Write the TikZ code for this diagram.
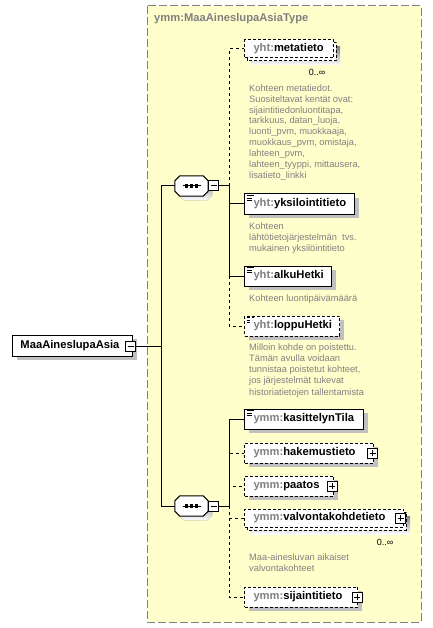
\documentclass[tikz,border=0pt]{standalone}
\usepackage{fontspec}
\setmainfont{Liberation Sans}
\usetikzlibrary{shadows}
\definecolor{bgyellow}{RGB}{255,255,204}
\definecolor{framegray}{RGB}{128,128,128}
\definecolor{pfx}{RGB}{128,128,128}
\definecolor{notegray}{RGB}{128,128,128}
\definecolor{shade}{RGB}{192,192,192}
\newcommand{\lblfont}{\bfseries\fontsize{11.2}{13}\selectfont}
\newcommand{\pf}[1]{\textcolor{pfx}{#1}}
\newcommand{\octpath}[2]{% #1 node name, #2 shift
  ([shift={#2},xshift=5pt]#1.north west) -- ([shift={#2},xshift=-5pt]#1.north east)
  -- ([shift={#2},yshift=-5pt]#1.north east) -- ([shift={#2},yshift=5pt]#1.south east)
  -- ([shift={#2},xshift=-5pt]#1.south east) -- ([shift={#2},xshift=5pt]#1.south west)
  -- ([shift={#2},yshift=5pt]#1.south west) -- ([shift={#2},yshift=-5pt]#1.north west) -- cycle}
\newcommand{\seqdraw}[1]{%
  \fill[shade] \octpath{#1}{(4pt,-4pt)};
  \draw[line width=1pt, fill=white] \octpath{#1}{(0pt,0pt)};
  \draw[line width=1pt] ([xshift=-9pt]#1.center) -- ([xshift=9pt]#1.center);
  \foreach \d in {-5,0,5}{\fill ([xshift=\d pt]#1.center) +(-1.7pt,-1.7pt) rectangle +(1.7pt,1.7pt);}}
\tikzset{
  box/.style={draw, line width=1pt, fill=white, anchor=west, minimum height=20pt,
    inner xsep=0pt, inner ysep=0pt, align=left, font=\lblfont},
  elem/.style={box, drop shadow={shadow xshift=4pt, shadow yshift=-4pt, fill=shade, opacity=1}},
  optline/.style={dash pattern=on 3pt off 2pt},
  conn/.style={line width=1pt},
  optconn/.style={line width=1pt, dash pattern=on 3pt off 3pt},
  notetext/.style={anchor=north west, align=left, text=notegray, inner sep=0pt,
    font=\fontsize{9.3}{10.9}\selectfont},
  multtext/.style={inner sep=0pt, font=\fontsize{9}{10}\selectfont},
  simple/.style={path picture={
    \draw[line width=0.8pt] ([shift={(2pt,-1.5pt)}]path picture bounding box.north west) -- ++(7pt,0pt);
    \draw[line width=0.8pt] ([shift={(2pt,-4pt)}]path picture bounding box.north west) -- ++(5pt,0pt);
    \draw[line width=0.8pt] ([shift={(2pt,-6.5pt)}]path picture bounding box.north west) -- ++(5pt,0pt);}},
  pmbox/.style={draw, line width=1pt, fill=white, minimum size=10pt, inner sep=0pt},
  minusbox/.style={pmbox, path picture={
    \draw[line width=1pt] ([xshift=2pt]path picture bounding box.west) -- ([xshift=-2pt]path picture bounding box.east);}},
  plusbox/.style={pmbox, path picture={
    \draw[line width=1pt] ([xshift=2pt]path picture bounding box.west) -- ([xshift=-2pt]path picture bounding box.east);
    \draw[line width=1pt] ([yshift=2pt]path picture bounding box.south) -- ([yshift=-2pt]path picture bounding box.north);}},
  seqnode/.style={rectangle, minimum width=33pt, minimum height=20pt, inner sep=0pt},
  backbox/.style={draw, line width=1pt, fill=white, optline}
}
\begin{document}
\begin{tikzpicture}[x=1pt,y=-1pt]
\useasboundingbox (0,0) rectangle (432,628);
\fill[white] (0,0) rectangle (432,628);
% complex type frame
\draw[fill=bgyellow, draw=framegray, line width=1pt, dash pattern=on 8pt off 3pt] (147,6) rectangle (421,622);
\node[anchor=west, inner sep=0pt, text=pfx, font=\lblfont] (title) at (154,19) {ymm:MaaAineslupaAsiaType};

% root
\node[elem, text width=120pt, minimum height=21pt] (root) at (12,345.5) {\hspace*{8pt}MaaAineslupaAsia};
\node[minusbox] (rootpm) at (130.5,346) {};

% sequences
\node[seqnode] (seq1) at (191.5,186) {};
\seqdraw{seq1}
\node[minusbox] (s1pm) at (213.5,186) {};
\node[seqnode] (seq2) at (191.5,506) {};
\seqdraw{seq2}
\node[minusbox] (s2pm) at (213.5,506) {};

% metatieto (0..inf)
\fill[shade] (251,47) rectangle (340,65);
\draw[backbox] (247,43) rectangle (336,61);
\node[box, optline, text width=89pt, minimum height=18pt] (meta) at (244,49) {\hspace*{9pt}\pf{yht:}metatieto};
\node[multtext] (metam) at (317,72) {0..∞};
\node[notetext] (metan) at (249,84.3) {Kohteen metatiedot.\\Suositeltavat kentät ovat:\\sijaintitiedonluontitapa,\\tarkkuus, datan\_luoja,\\luonti\_pvm, muokkaaja,\\muokkaus\_pvm, omistaja,\\lahteen\_pvm,\\lahteen\_tyyppi, mittausera,\\lisatieto\_linkki};

% yksilointitieto
\node[elem, simple, text width=110pt] (yks) at (244,204) {\hspace*{9pt}\pf{yht:}yksilointitieto};
\node[notetext] (yksn) at (249,222.3) {Kohteen\\lähtötietojärjestelmän\ \ tvs.\\mukainen yksilöintitieto};

% alkuHetki
\node[elem, simple, text width=87pt] (alku) at (244,276) {\hspace*{9pt}\pf{yht:}alkuHetki};
\node[notetext] (alkun) at (249,294.3) {Kohteen luontipäivämäärä};

% loppuHetki
\node[elem, simple, optline, text width=95pt] (loppu) at (244,326) {\hspace*{9pt}\pf{yht:}loppuHetki};
\node[notetext, font=\fontsize{9.3}{11.2}\selectfont] (loppun) at (249,343.3) {Milloin kohde on poistettu.\\Tämän avulla voidaan\\tunnistaa poistetut kohteet,\\jos järjestelmät tukevat\\historiatietojen tallentamista};

% kasittelynTila
\node[elem, simple, text width=119pt] (kas) at (244,419) {\hspace*{9pt}\pf{ymm:}kasittelynTila};

% hakemustieto
\node[elem, optline, text width=129pt] (hak) at (244,453) {\hspace*{9pt}\pf{ymm:}hakemustieto};
\node[plusbox] (hakpm) at (372.5,453) {};

% paatos
\node[elem, optline, text width=89pt] (paa) at (244,486) {\hspace*{9pt}\pf{ymm:}paatos};
\node[plusbox] (paapm) at (332,486) {};

% valvontakohdetieto (0..inf)
\fill[shade] (251,516) rectangle (410,534);
\draw[backbox] (247,512) rectangle (406,530);
\node[box, optline, text width=159pt, minimum height=18pt] (valv) at (244,518) {\hspace*{9pt}\pf{ymm:}valvontakohdetieto};
\node[plusbox] (valvpm) at (400.5,518) {};
\node[multtext] (valvm) at (385,542) {0..∞};
\node[notetext] (valvn) at (249,553.3) {Maa-ainesluvan aikaiset\\valvontakohteet};

% sijaintitieto
\node[elem, optline, text width=113pt] (sij) at (244,597) {\hspace*{9pt}\pf{ymm:}sijaintitieto};
\node[plusbox] (sijpm) at (357,597) {};

% connectors
\coordinate (bus0) at (161,346);
\coordinate (bus1) at (229,186);
\coordinate (bus2) at (229,506);
\draw[conn] (rootpm.east) -- (bus0);
\draw[conn] (bus0) |- (seq1.west);
\draw[conn] (bus0) |- (seq2.west);

\draw[conn] (s1pm.east) -- (bus1);
\draw[optconn] (bus1) |- (meta.west);
\draw[conn] (bus1) |- (yks.west);
\draw[conn] (bus1) |- (alku.west);
\draw[optconn] (bus1) |- (loppu.west);

\draw[conn] (s2pm.east) -- (bus2);
\draw[conn] (bus2) |- (kas.west);
\draw[optconn] (bus2) |- (hak.west);
\draw[optconn] (bus2) |- (paa.west);
\draw[optconn] (bus2) |- (valv.west);
\draw[optconn] (bus2) |- (sij.west);
\end{tikzpicture}
\end{document}
